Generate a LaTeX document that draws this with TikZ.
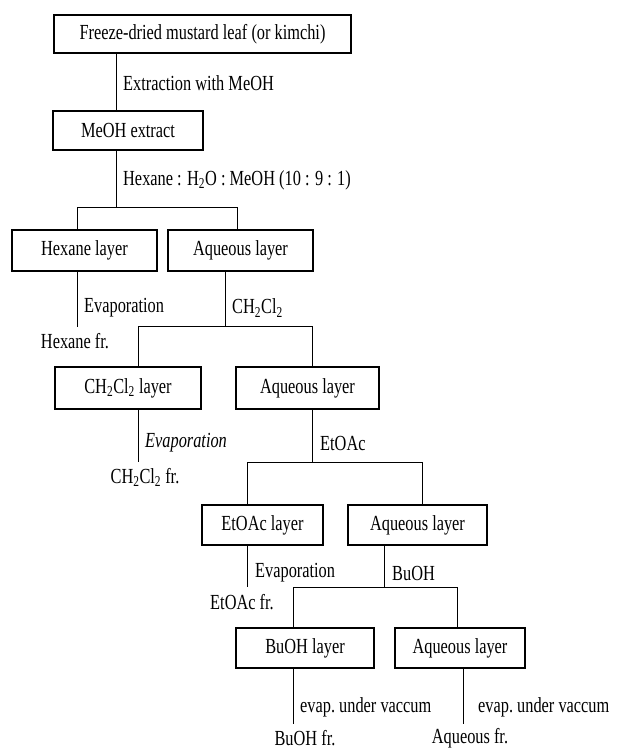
\documentclass[tikz,border=0pt]{standalone}
\usepackage{fontspec}
\setmainfont{Liberation Serif}[FakeStretch=0.76]
\usetikzlibrary{positioning, calc}
\tikzset{
  basefont/.style={font=\fontsize{21.5}{23}\selectfont},
  layerbox/.style={rectangle, draw=black, line width=1.4pt, basefont,
                   inner sep=0pt, minimum height=40pt},
  steplbl/.style={basefont, anchor=west, inner sep=0pt},
  fracnode/.style={basefont, inner sep=0pt},
  link/.style={draw=black, line width=0.9pt}
}

\begin{document}
\begin{tikzpicture}[x=1pt, y=-1pt]
  \useasboundingbox (0,0) rectangle (616,752);

  % Boxes
  \node[layerbox, minimum width=297pt, minimum height=38pt] (leaf) at (202.5,34)
      {Freeze-dried mustard leaf (or kimchi)};
  \node[layerbox, minimum width=150pt, minimum height=39pt] (meoh) at (128,130.5) {MeOH extract};
  \node[layerbox, minimum width=145pt, minimum height=41pt] (hexL) at (84.5,250.5) {Hexane layer};
  \node[layerbox, minimum width=145pt, minimum height=41pt] (aq1) at (240.5,250.5) {Aqueous layer};
  \node[layerbox, minimum width=146pt, minimum height=42pt] (dcmL) at (128,388)
      {CH\textsubscript{2}Cl\textsubscript{2} layer};
  \node[layerbox, minimum width=143pt, minimum height=42pt] (aq2) at (307.5,388) {Aqueous layer};
  \node[layerbox, minimum width=121pt] (etL) at (262.5,525) {EtOAc layer};
  \node[layerbox, minimum width=139pt] (aq3) at (417.5,525) {Aqueous layer};
  \node[layerbox, minimum width=138pt] (buL) at (305,648) {BuOH layer};
  \node[layerbox, minimum width=130pt] (aq4) at (460,648) {Aqueous layer};

  % Fractions
  \node[fracnode] (hexF) at (75,341) {Hexane fr.};
  \node[fracnode] (dcmF) at (145,477) {CH\textsubscript{2}Cl\textsubscript{2} fr.};
  \node[fracnode] (etF) at (242,602) {EtOAc fr.};
  \node[fracnode] (buF) at (305,738) {BuOH fr.};
  \node[fracnode] (aqF) at (470,738) {Aqueous fr.};

  % Junction points
  \coordinate (c0) at (116,0);
  \coordinate (s1) at (116,207);
  \coordinate (s1l) at (77,207);
  \coordinate (s1r) at (237,207);
  \coordinate (s2) at (225,326);
  \coordinate (s2l) at (138,326);
  \coordinate (s2r) at (312,326);
  \coordinate (s3) at (312,462);
  \coordinate (s3l) at (247,462);
  \coordinate (s3r) at (422,462);
  \coordinate (s4) at (384,587);
  \coordinate (s4l) at (293,587);
  \coordinate (s4r) at (457,587);
  \coordinate (e1) at (77,327);
  \coordinate (e2) at (138,462);
  \coordinate (e3) at (247,587);
  \coordinate (e4) at (293,724);
  \coordinate (e5) at (463,724);

  % Connectors
  \draw[link] (leaf.south -| c0) -- (meoh.north -| c0);
  \draw[link] (meoh.south -| s1) -- (s1);
  \draw[link] (hexL.north -| s1l) |- (s1r) -- (aq1.north -| s1r);
  \draw[link] (hexL.south -| e1) -- (e1);
  \draw[link] (aq1.south -| s2) -- (s2);
  \draw[link] (dcmL.north -| s2l) |- (s2r) -- (aq2.north -| s2r);
  \draw[link] (dcmL.south -| e2) -- (e2);
  \draw[link] (aq2.south -| s3) -- (s3);
  \draw[link] (etL.north -| s3l) |- (s3r) -- (aq3.north -| s3r);
  \draw[link] (etL.south -| e3) -- (e3);
  \draw[link] (aq3.south -| s4) -- (s4);
  \draw[link] (buL.north -| s4l) |- (s4r) -- (aq4.north -| s4r);
  \draw[link] (buL.south -| e4) -- (e4);
  \draw[link] (aq4.south -| e5) -- (e5);

  % Step labels
  \node[steplbl] (l1) at (123,83) {Extraction with MeOH};
  \node[steplbl] (l2) at (123,180) {Hexane : H\textsubscript{2}O : MeOH (10 : 9 : 1)};
  \node[steplbl] (l3) at (84,308) {Evaporation};
  \node[steplbl] (l4) at (232,308) {CH\textsubscript{2}Cl\textsubscript{2}};
  \node[steplbl] (l5) at (145,443) {\itshape Evaporation};
  \node[steplbl] (l6) at (320,443) {EtOAc};
  \node[steplbl] (l7) at (255,573) {Evaporation};
  \node[steplbl] (l8) at (392,573) {BuOH};
  \node[steplbl] (l9) at (300,707) {evap.\ under vaccum};
  \node[steplbl] (l10) at (478,707) {evap.\ under vaccum};

\end{tikzpicture}
\end{document}
